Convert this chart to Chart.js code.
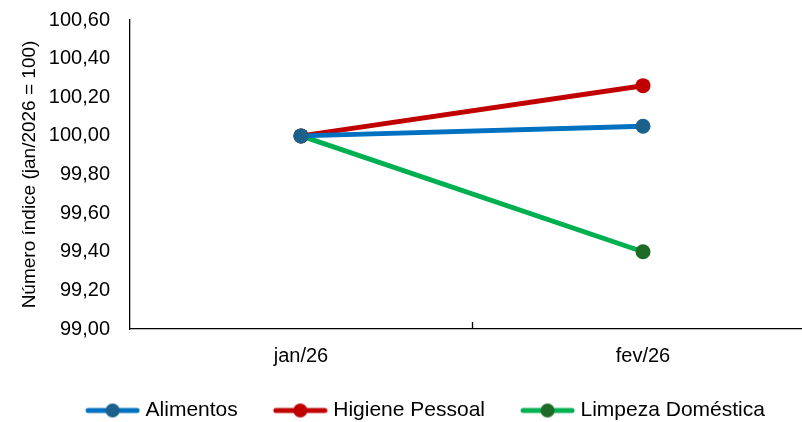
<!DOCTYPE html>
<html>
<head>
<meta charset="utf-8">
<script src="https://cdn.jsdelivr.net/npm/chart.js@4.4.1/dist/chart.umd.min.js"></script>
<style>
  html, body { margin: 0; padding: 0; background: #fff; overflow: hidden; }
  #wrap { width: 802px; height: 422px; overflow: hidden; position: relative; }
  #myChart { position: absolute; left: 0; top: 0; }
</style>
</head>
<body>
<div id="wrap"><canvas id="myChart" width="858" height="440"></canvas></div>
<script>
var labelsMes = ['jan/26', 'fev/26'];
var serieNomes = ['Alimentos', 'Higiene Pessoal', 'Limpeza Doméstica'];
var alimentos = [100.00, 100.05];
var higiene = [100.00, 100.26];
var limpeza = [100.00, 99.40];
var corLinha = ['#0070C0', '#C00000', '#00B050'];
var corPonto = ['#1B618C', '#C00000', '#1E6B28'];

Chart.defaults.font.family = "'Liberation Sans', Arial, sans-serif";
Chart.defaults.font.size = 20;
Chart.defaults.color = '#000';

// legend marker: line with a dot in the middle
function legendIcon(i) {
  var c = document.createElement('canvas');
  c.width = 85;
  c.height = 16;
  var g = c.getContext('2d');
  g.strokeStyle = corLinha[i];
  g.lineWidth = 5;
  g.lineCap = 'round';
  g.beginPath();
  g.moveTo(33, 8);
  g.lineTo(82, 8);
  g.stroke();
  g.fillStyle = corPonto[i];
  g.beginPath();
  g.arc(57.5, 8, 7, 0, Math.PI * 2);
  g.fill();
  return c;
}

var valores = [alimentos, higiene, limpeza];
var dataSets = [];
for (var i = 0; i < valores.length; i++) {
  dataSets.push({
    label: serieNomes[i],
    data: valores[i],
    borderColor: corLinha[i],
    backgroundColor: corPonto[i],
    pointBackgroundColor: corPonto[i],
    pointBorderColor: corPonto[i],
    pointBorderWidth: 0,
    pointRadius: 7.5,
    borderWidth: 5,
    tension: 0,
    fill: false
  });
}

// small tick mark between the two months, pointing up
var midTick = {
  id: 'midTick',
  afterDraw: function(chart) {
    var x = chart.scales.x;
    var ctx = chart.ctx;
    for (var k = 1; k < labelsMes.length; k++) {
      var px = Math.round(x.getPixelForValue(k - 0.5)) + 0.5;
      ctx.save();
      ctx.strokeStyle = '#000';
      ctx.lineWidth = 1.3;
      ctx.beginPath();
      ctx.moveTo(px, x.top);
      ctx.lineTo(px, x.top - 7);
      ctx.stroke();
      ctx.restore();
    }
  }
};

var ctx = document.getElementById('myChart');
var myChart = new Chart(ctx, {
  type: 'line',
  data: {
    labels: labelsMes,
    datasets: dataSets
  },
  options: {
    responsive: false,
    animation: false,
    layout: { padding: { left: 11, right: 44, top: 20, bottom: 9 } },
    plugins: {
      tooltip: { enabled: false },
      legend: {
        position: 'bottom',
        labels: {
          usePointStyle: true,
          pointStyleWidth: 75,
          padding: 10,
          font: { size: 21 },
          generateLabels: function(chart) {
            var items = Chart.defaults.plugins.legend.labels.generateLabels(chart);
            for (var j = 0; j < items.length; j++) {
              items[j].pointStyle = legendIcon(j);
            }
            return items;
          }
        }
      }
    },
    scales: {
      x: {
        offset: true,
        grid: { display: false, drawTicks: false },
        border: { display: true, color: '#000', width: 1.3 },
        ticks: { padding: 15, font: { size: 20 } },
        afterFit: function(s) { s.height = 61; }
      },
      y: {
        min: 99,
        max: 100.6,
        grid: { display: false, drawTicks: false },
        border: { display: true, color: '#000', width: 1.3 },
        ticks: {
          stepSize: 0.2,
          padding: 20,
          font: { size: 20 },
          callback: function(v) { return v.toFixed(2).replace('.', ','); }
        },
        title: {
          display: true,
          text: 'Número índice (jan/2026 = 100)',
          font: { size: 19 },
          padding: { top: 7, bottom: 0 }
        },
        afterFit: function(s) {
          s.width = 119;
          s.paddingTop = 0;
          s.paddingBottom = 0;
        }
      }
    }
  },
  plugins: [midTick]
});
</script>
</body>
</html>
